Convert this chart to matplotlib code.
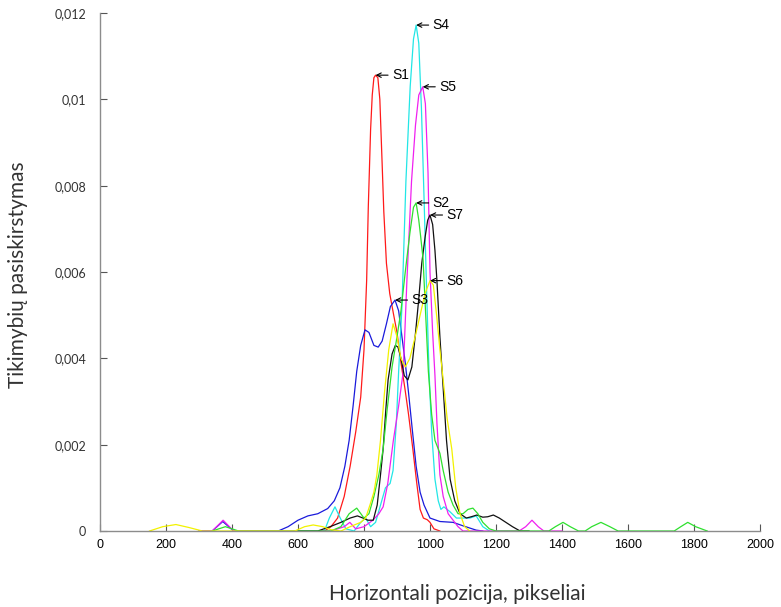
import matplotlib
matplotlib.use("Agg")
import matplotlib.pyplot as plt
import numpy as np

# curves (x in pixels, y = probability density)
s1_x = [600, 680, 700, 720, 740, 758, 775, 790, 800, 808, 813, 820, 825, 830, 835, 842, 848, 855, 860,
        868, 878, 890, 900, 912, 924, 935, 948, 960, 970, 980, 992, 1000, 1012, 1030]
s1_y = [0, 0, 0.0001, 0.0003, 0.0008, 0.0015, 0.0023, 0.0031, 0.0042, 0.0058, 0.0075, 0.0093, 0.0101,
        0.0105, 0.01056, 0.0105, 0.0100, 0.0085, 0.0074, 0.0062, 0.0055, 0.0050, 0.0046, 0.0039, 0.0033,
        0.0027, 0.0019, 0.0011, 0.0005, 0.0003, 0.00026, 0.0002, 0.00005, 0]

s3_x = [300, 340, 372, 405, 540, 570, 600, 630, 660, 690, 710, 727, 742, 755, 767, 778, 790, 803, 815,
        830, 843, 855, 868, 880, 894, 905, 915, 925, 935, 947, 958, 970, 982, 1000, 1030, 1070, 1100,
        1140, 1160]
s3_y = [0, 0, 0.00022, 0, 0, 0.0001, 0.00025, 0.00035, 0.0004, 0.00052, 0.0007, 0.001, 0.0015, 0.0021,
        0.0029, 0.0037, 0.0043, 0.00466, 0.0046, 0.0043, 0.00426, 0.0044, 0.0048, 0.0052, 0.00535, 0.0051,
        0.0045, 0.0039, 0.0032, 0.0023, 0.0015, 0.0009, 0.0006, 0.0003, 0.00022, 0.0002, 0.00012,
        0.00002, 0]

s4_x = [600, 680, 695, 712, 728, 745, 770, 790, 805, 820, 835, 850, 865, 879, 888, 898, 905, 915, 927,
        940, 950, 958, 966, 974, 982, 990, 997, 1005, 1015, 1025, 1033, 1042, 1060, 1080, 1100, 1121,
        1140, 1160, 1180]
s4_y = [0, 0, 0.0003, 0.00056, 0.0003, 0.00005, 0, 0.0002, 0.0003, 0.0001, 0.0002, 0.0006, 0.0010,
        0.0011, 0.0014, 0.0025, 0.0037, 0.0052, 0.0081, 0.0103, 0.0114, 0.01172, 0.0113, 0.0098, 0.0077,
        0.0055, 0.0037, 0.0023, 0.0012, 0.0007, 0.0005, 0.00056, 0.00045, 0.0003, 0.0003, 0.0003,
        0.00035, 0.0001, 0]

s5_x = [300, 340, 373, 405, 700, 740, 757, 775, 800, 827, 845, 858, 872, 889, 905, 919, 930, 944, 956,
        966, 978, 986, 994, 1000, 1008, 1015, 1021, 1030, 1040, 1055, 1070, 1085, 1100, 1270, 1290,
        1309, 1328, 1345, 1400]
s5_y = [0, 0, 0.00025, 0, 0, 0.0001, 0.0002, 0.00005, 0.0001, 0.00025, 0.0004, 0.00056, 0.0011,
        0.0021, 0.0029, 0.0037, 0.0058, 0.0081, 0.0094, 0.0101, 0.01029, 0.0099, 0.0083, 0.0060,
        0.0046, 0.0036, 0.0025, 0.0013, 0.0008, 0.0004, 0.00025, 0.0001, 0, 0, 0.0001, 0.00025,
        0.0001, 0, 0]

s7_x = [600, 660, 697, 730, 758, 780, 797, 812, 828, 840, 850, 858, 866, 873, 885, 895, 903, 912, 922,
        933, 945, 955, 965, 975, 985, 993, 1000, 1008, 1015, 1021, 1030, 1040, 1050, 1061, 1075, 1091,
        1110, 1125, 1142, 1160, 1175, 1192, 1210, 1230, 1250, 1273, 1300]
s7_y = [0, 0, 0.0001, 0.0002, 0.0003, 0.00035, 0.0003, 0.00025, 0.00025, 0.0006, 0.0013, 0.0019,
        0.0028, 0.0035, 0.0041, 0.0043, 0.00426, 0.0040, 0.0036, 0.0035, 0.0038, 0.0045, 0.0053, 0.0062,
        0.0068, 0.0072, 0.00732, 0.0071, 0.0065, 0.0058, 0.0045, 0.0033, 0.0021, 0.0012, 0.0007, 0.0004,
        0.0003, 0.00033, 0.00037, 0.00032, 0.00033, 0.00037, 0.0003, 0.0002, 0.0001, 0, 0]

s2_x = [340, 380, 420, 700, 730, 755, 778, 800, 815, 830, 845, 858, 870, 885, 900, 912, 925, 939, 950,
        958, 966, 972, 979, 987, 995, 1005, 1015, 1030, 1040, 1055, 1070, 1085, 1100, 1115, 1130, 1145,
        1160, 1180, 1200, 1360, 1380, 1403, 1425, 1450, 1470, 1490, 1518, 1545, 1570, 1740, 1760, 1781,
        1805, 1840]
s2_y = [0, 0.0001, 0, 0, 0.0001, 0.0004, 0.00053, 0.0003, 0.0004, 0.0008, 0.0013, 0.0019, 0.0028,
        0.0038, 0.0045, 0.0051, 0.0060, 0.0069, 0.0075, 0.0076, 0.0072, 0.0068, 0.0063, 0.0050, 0.0037,
        0.0027, 0.0021, 0.0018, 0.0014, 0.0009, 0.0006, 0.0004, 0.0004, 0.0005, 0.00053, 0.0004, 0.0002,
        0.00005, 0, 0, 0.0001, 0.0002, 0.0001, 0, 0, 0.0001, 0.0002, 0.0001, 0, 0, 0.0001, 0.0002,
        0.0001, 0]

s6_x = [150, 190, 230, 270, 310, 590, 620, 646, 675, 700, 730, 758, 790, 805, 818, 830, 839, 850, 862,
        875, 888, 900, 912, 925, 939, 955, 970, 985, 1000, 1010, 1020, 1030, 1040, 1052, 1066, 1078,
        1091, 1105, 1120]
s6_y = [0, 0.0001, 0.00015, 0.00008, 0, 0, 0.0001, 0.00014, 0.0001, 0.00003, 0, 0.0001, 0.0002, 0.0003,
        0.0006, 0.0009, 0.0013, 0.0021, 0.0032, 0.0042, 0.0048, 0.0045, 0.0040, 0.0038, 0.0040, 0.0045,
        0.0050, 0.0055, 0.0058, 0.0057, 0.0050, 0.0042, 0.0035, 0.0026, 0.0019, 0.0010, 0.0004, 0.0001, 0]

series = [
    ("S1", s1_x, s1_y, "#ff1a1a"),
    ("S3", s3_x, s3_y, "#1a1adb"),
    ("S4", s4_x, s4_y, "#22e6e6"),
    ("S5", s5_x, s5_y, "#f020f0"),
    ("S7", s7_x, s7_y, "#111111"),
    ("S2", s2_x, s2_y, "#2ee02e"),
    ("S6", s6_x, s6_y, "#f2f200"),
]

x_ticks = [0, 200, 400, 600, 800, 1000, 1200, 1400, 1600, 1800, 2000]
y_ticks = [0, 0.002, 0.004, 0.006, 0.008, 0.01, 0.012]
y_tick_labels = ["0", "0,002", "0,004", "0,006", "0,008", "0,01", "0,012"]

fig = plt.figure(figsize=(7.81, 6.07), dpi=100)
ax = fig.add_axes([100 / 781, 76 / 607, 660 / 781, 518 / 607])

for name, xs, ys, col in series:
    ax.plot(xs, ys, color=col, lw=0.9)

# labels with small arrows pointing at each peak
for name, xs, ys, col in series:
    i = int(np.argmax(ys))
    ax.annotate(name, xy=(xs[i], ys[i]), xytext=(12, 0), textcoords="offset points",
                ha="left", va="center", fontsize=10, family="Liberation Sans",
                arrowprops=dict(arrowstyle="->", color="black", lw=0.8,
                                shrinkA=1, shrinkB=0, mutation_scale=8))

ax.set_xlim(0, 2000)
ax.set_ylim(0, 0.012)
ax.set_xticks(x_ticks)
ax.set_xticklabels([str(t) for t in x_ticks], family="Liberation Sans", fontsize=9)
ax.set_yticks(y_ticks)
ax.set_yticklabels(y_tick_labels, family="Lato", fontsize=9, color="#333333")

for side in ("top", "right"):
    ax.spines[side].set_visible(False)
for side in ("left", "bottom"):
    ax.spines[side].set_color("#8c8c8c")
    ax.spines[side].set_linewidth(1.0)
ax.tick_params(direction="in", length=5, color="#555555", width=0.8)
ax.tick_params(axis="y", pad=10)
ax.tick_params(axis="x", pad=6)

fig.text(457 / 781, 1 - 594 / 607, "Horizontali pozicija, pikseliai", family="Lato",
         fontsize=15, color="#333333", ha="center", va="center")
fig.text(18 / 781, 1 - 275 / 607, "Tikimybių pasiskirstymas", family="Lato",
         fontsize=15, color="#333333", ha="center", va="center", rotation=90)

fig.savefig("out.png", dpi=100)
